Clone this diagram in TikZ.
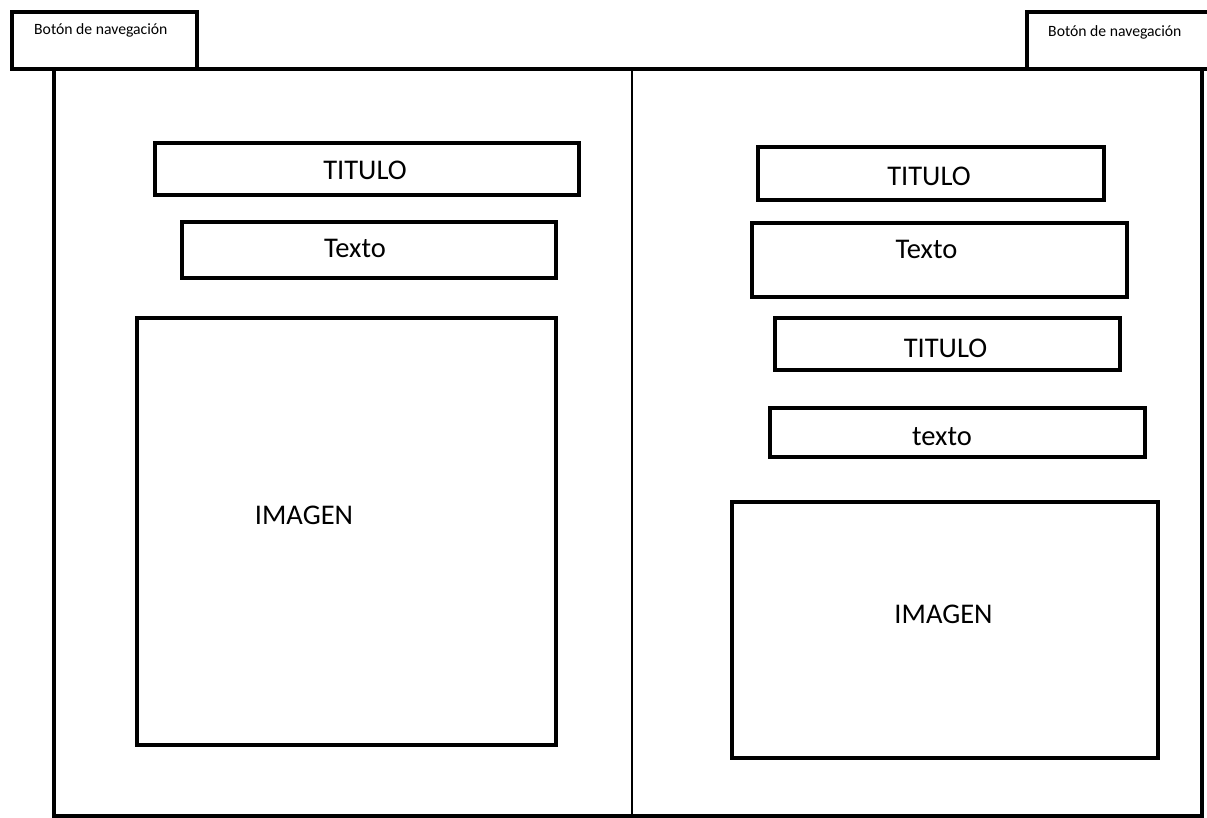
\documentclass[tikz,border=0pt]{standalone}
\usepackage{fontspec}
\setmainfont{Carlito}
\begin{document}
\begin{tikzpicture}[x=1pt,y=-1pt,
  box/.style={draw, line width=4pt, inner sep=0pt, rectangle},
  big/.style={font=\fontsize{28.5}{31}\selectfont, anchor=base, inner sep=0pt},
  small/.style={font=\fontsize{15.7}{18}\selectfont, anchor=base west, inner sep=0pt},
  thin/.style={line width=1.3pt}]
\useasboundingbox (0,0) rectangle (1207,818);
\newcommand\wbox[5]{\node[box, minimum width={#4pt-#2pt}, minimum height={#5pt-#3pt}] (#1) at ({(#2+#4)/2},{(#3+#5)/2}) {};}
% main frame and divider
\wbox{frame}{54}{69}{1202}{816}
\coordinate (dtop) at (632,69);
\coordinate (dbot) at (632,816);
\draw[thin] (dtop) -- (dbot);
% navigation buttons
\wbox{lbtn}{12}{12}{197}{69}
\wbox{rbtn}{1027}{12}{1240}{69}
\node[small] (lbtxt) at (34,35) {Botón de navegación};
\node[small] (rbtxt) at (1048,37) {Botón de navegación};
% left column
\wbox{ltit}{155}{143}{579}{195}
\node[big] (ltitt) at (365,180) {TITULO};
\wbox{ltex}{182}{222}{556}{278}
\node[big] (ltext) at (355,258) {Texto};
\wbox{limg}{137}{318}{556}{745}
\node[big] (limgt) at (304,524) {IMAGEN};
% right column
\wbox{rtit1}{758}{147}{1104}{200}
\node[big] (rtit1t) at (929,186) {TITULO};
\wbox{rtex1}{752}{223}{1127}{297}
\node[big] (rtex1t) at (926.5,259) {Texto};
\wbox{rtit2}{775}{318}{1120}{370}
\node[big] (rtit2t) at (945.5,357) {TITULO};
\wbox{rtex2}{770}{408}{1145}{457}
\node[big] (rtex2t) at (942,445) {texto};
\wbox{rimg}{732}{502}{1158}{758}
\node[big] (rimgt) at (943.5,623) {IMAGEN};
\end{tikzpicture}
\end{document}
